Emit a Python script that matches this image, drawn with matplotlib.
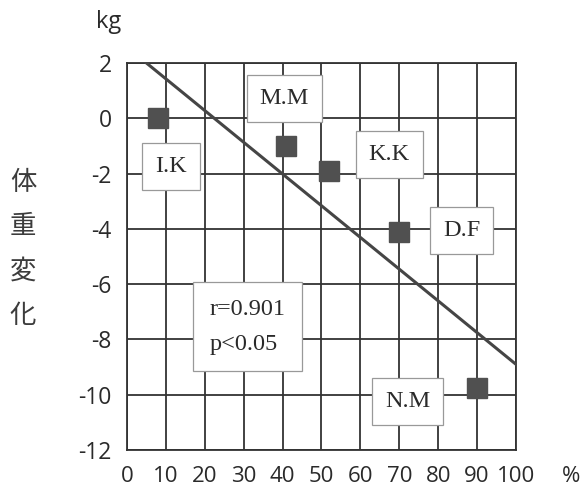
import matplotlib
matplotlib.use("Agg")
import matplotlib.pyplot as plt

plt.rcParams["axes.unicode_minus"] = False

# data
names = ["I.K", "M.M", "K.K", "D.F", "N.M"]
x_vals = [8, 41, 52, 70, 90]
y_vals = [0, -1, -1.9, -4.1, -9.75]
label_x = [11.3, 40.4, 67.4, 86, 72.2]
label_y = [-1.75, 0.72, -1.3, -4.06, -10.25]
line_x = [5, 100]
line_y = [2, -8.9]
x_ticks = [0, 10, 20, 30, 40, 50, 60, 70, 80, 90, 100]
y_ticks = [2, 0, -2, -4, -6, -8, -10, -12]
stat_lines = ["r=0.901", "p<0.05"]

fig = plt.figure(figsize=(5.84, 4.90), dpi=100)
ax = fig.add_axes([0.2175, 0.0816, 0.666, 0.7898])
ax.set_xlim(0, 100)
ax.set_ylim(-12, 2)
ax.set_xticks(x_ticks)
ax.set_yticks(y_ticks)
ax.grid(True, color="#333333", linewidth=1.3)
ax.set_axisbelow(True)
for s in ax.spines.values():
    s.set_color("#333333")
    s.set_linewidth(1.3)
ax.tick_params(axis="x", length=0, pad=11.5, labelsize=16, colors="#2a2a2a")
ax.tick_params(axis="y", length=0, pad=11, labelsize=16.5, colors="#2a2a2a")
for lab in ax.get_xticklabels() + ax.get_yticklabels():
    lab.set_family("Open Sans")

ax.plot(line_x, line_y, color="#454545", linewidth=2.2, zorder=3)
ax.plot(x_vals, y_vals, linestyle="none", marker="s", markersize=14.5,
        color="#505050", zorder=4)

box = dict(boxstyle="square,pad=0.53", facecolor="white", edgecolor="#999999", linewidth=0.9)
for n, lx, ly in zip(names, label_x, label_y):
    ax.text(lx, ly, n, ha="center", va="center", fontsize=17.5, family="Liberation Serif",
            color="#2a2a2a", bbox=box, zorder=5)

ax.text(21.3, -7.54, "\n".join(stat_lines), ha="left", va="center", fontsize=17.5,
        family="Liberation Serif", color="#2a2a2a", linespacing=1.85,
        bbox=dict(boxstyle="square,pad=0.68", facecolor="white", edgecolor="#999999",
                  linewidth=0.9), zorder=5)

fig.text(109/584, 1-22/490, "kg", ha="center", va="center", fontsize=17,
         family="Open Sans", color="#2a2a2a")
fig.text(571/584, 1-476/490, "%", ha="center", va="center", fontsize=16,
         family="Open Sans", color="#2a2a2a")
for i, ch in enumerate("体重変化"):
    fig.text(23/584, 1-(182+44.5*i)/490, ch, ha="center", va="center", fontsize=19,
             family=["Noto Sans CJK JP", "DejaVu Sans"], color="#3c3c3c")

fig.savefig("out.png", dpi=100)
